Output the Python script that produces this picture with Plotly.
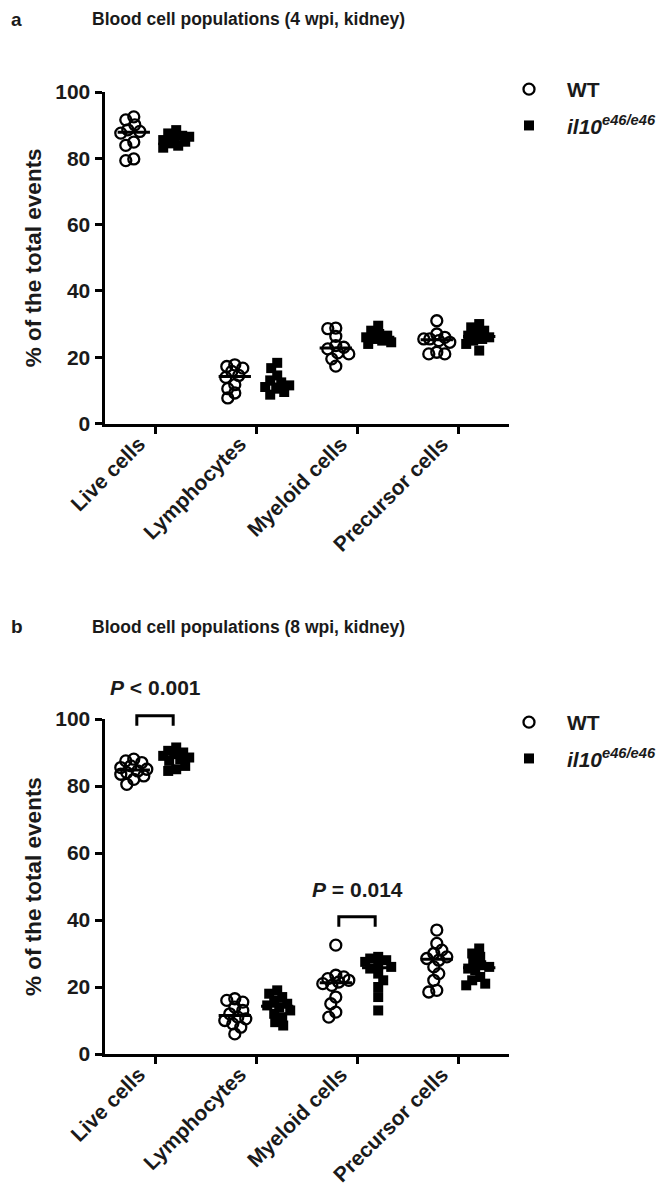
import numpy as np
import plotly.graph_objects as go

# ---------------- data ----------------
categories = ["Live cells", "Lymphocytes", "Myeloid cells", "Precursor cells"]
y_ticks = [0, 20, 40, 60, 80, 100]
groups = ["WT", "il10e46/e46"]

# Panel a: 4 wpi, kidney
a_wt_live = [92.5, 91.6, 90.1, 88.6, 88.1, 87.6, 84.9, 83.9, 79.8, 79.3]
a_ko_live = [88.5, 87.5, 86.8, 86.5, 86.0, 85.5, 85.0, 84.5, 83.8, 83.2]
a_wt_lymph = [17.7, 17.2, 16.7, 15.7, 14.5, 13.9, 11.7, 10.5, 9.2, 7.7]
a_ko_lymph = [18.3, 16.7, 14.5, 13.0, 12.4, 11.5, 11.0, 10.5, 9.5, 8.7]
a_wt_myeloid = [28.8, 28.6, 26.3, 23.5, 23.0, 22.5, 21.3, 21.0, 19.5, 17.3]
a_ko_myeloid = [29.5, 28.0, 27.0, 26.5, 26.0, 25.5, 25.0, 24.5, 24.0]
a_wt_precursor = [31.0, 27.0, 26.0, 25.5, 25.5, 25.0, 24.5, 21.5, 21.0, 21.0]
a_ko_precursor = [30.0, 29.0, 28.0, 27.0, 26.5, 26.0, 25.5, 25.0, 24.0, 22.0]

# Panel b: 8 wpi, kidney
b_wt_live = [88.0, 87.5, 87.0, 86.0, 85.5, 85.0, 84.5, 84.0, 83.5, 83.0, 82.0, 80.5]
b_ko_live = [91.5, 90.5, 90.0, 89.5, 89.0, 88.5, 88.0, 87.5, 86.0, 85.0, 84.5]
b_wt_lymph = [16.5, 16.0, 15.5, 14.0, 13.0, 12.0, 11.0, 10.5, 10.0, 9.0, 8.0, 6.0]
b_ko_lymph = [19.0, 18.0, 17.0, 16.0, 15.0, 14.5, 14.0, 13.0, 12.0, 11.0, 9.5, 8.5]
b_wt_myeloid = [32.5, 23.5, 23.0, 22.5, 22.0, 21.5, 21.0, 20.5, 17.0, 15.0, 12.5, 11.0]
b_ko_myeloid = [29.0, 28.5, 28.0, 27.5, 26.5, 26.0, 25.5, 24.0, 22.0, 20.0, 17.0, 13.0]
b_wt_precursor = [37.0, 33.0, 31.0, 30.0, 29.0, 28.5, 28.0, 26.0, 24.0, 22.0, 19.0, 18.5]
b_ko_precursor = [31.5, 30.0, 29.0, 27.5, 26.5, 26.0, 25.5, 25.0, 23.0, 22.0, 21.0, 20.5]

# significance annotations (panel b)
b_sig_categories = [0, 2]
b_sig_labels = ["<i>P</i> < 0.001", "<i>P</i> = 0.014"]
b_sig_heights = [101, 41]       # bracket top, in % units
b_sig_text_heights = [109.5, 49]

panels = {
    "a": {
        "WT": [a_wt_live, a_wt_lymph, a_wt_myeloid, a_wt_precursor],
        "KO": [a_ko_live, a_ko_lymph, a_ko_myeloid, a_ko_precursor],
    },
    "b": {
        "WT": [b_wt_live, b_wt_lymph, b_wt_myeloid, b_wt_precursor],
        "KO": [b_ko_live, b_ko_lymph, b_ko_myeloid, b_ko_precursor],
    },
}

# ---------------- layout geometry ----------------
W, H = 666, 1187
FONT = "Arial, Liberation Sans, sans-serif"
TXT = "#1a1a1a"
x_dom = [96.5 / W, 500.5 / W]
dom_a = [1 - 415.5 / H, 1 - 84 / H]
dom_b = [1 - 1046 / H, 1 - 711 / H]
GROUP_OFF = 0.21
PX_PER_X = (x_dom[1] - x_dom[0]) * W / 4.0
PX_PER_Y_a = (dom_a[1] - dom_a[0]) * H / 100.0
PX_PER_Y_b = (dom_b[1] - dom_b[0]) * H / 100.0


def swarm(values, px_per_y, min_dist=8.0, cap=13.0, step=1.0):
    """Deterministic, compact, symmetric beeswarm offsets (returned in x-axis units)."""
    order = np.argsort(values)[::-1]
    placed = []
    offs = np.zeros(len(values))
    for n, i in enumerate(order):
        sign = 1 if n % 2 == 0 else -1
        cands = [0.0]
        k = 1
        while k * step <= cap:
            cands += [sign * k * step, -sign * k * step]
            k += 1
        ypx = values[i] * px_per_y
        best, best_d = None, -1.0
        for c in cands:
            d = min([np.hypot(c - px, ypx - py) for px, py in placed] or [1e9])
            if d >= min_dist:
                best = c
                break
            if d > best_d:
                best_d, best = d, c
        placed.append((best, ypx))
        offs[i] = best / PX_PER_X
    return offs


fig = go.Figure()

for pname, xa, ya, px_y, leg in [("a", "x", "y", PX_PER_Y_a, "legend"),
                                   ("b", "x2", "y2", PX_PER_Y_b, "legend2")]:
    for gname, sgn in [("WT", -1), ("KO", 1)]:
        xs, ys = [], []
        for ci, vals in enumerate(panels[pname][gname]):
            v = np.array(vals, dtype=float)
            center = ci + sgn * GROUP_OFF
            xs.extend(list(center + swarm(v, px_y)))
            ys.extend(list(v))
        if gname == "WT":
            marker = dict(symbol="circle-open", size=11, color="black",
                          line=dict(width=2.3, color="black"))
            name = "<b>WT</b>"
        else:
            marker = dict(symbol="square", size=10, color="black")
            name = "<b><i>il10<sup>e46/e46</sup></i></b>"
        fig.add_trace(go.Scatter(x=xs, y=ys, mode="markers", marker=marker,
                                 name=name, xaxis=xa, yaxis=ya, legend=leg,
                                 legendgroup=pname + gname,
                                 cliponaxis=False, showlegend=True))
    # median lines
    for gname, sgn in [("WT", -1), ("KO", 1)]:
        for ci, vals in enumerate(panels[pname][gname]):
            m = float(np.median(vals))
            c = ci + sgn * GROUP_OFF
            fig.add_trace(go.Scatter(x=[c - 0.16, c + 0.16], y=[m, m], mode="lines",
                                     line=dict(color="black", width=3),
                                     xaxis=xa, yaxis=ya, showlegend=False,
                                     hoverinfo="skip", cliponaxis=False))

axis_common = dict(
    showline=True, linecolor="black", linewidth=3, ticks="outside",
    tickcolor="black", tickwidth=3, ticklen=7, showgrid=False, zeroline=False,
    tickfont=dict(family=FONT, size=21, color=TXT, weight="bold"),
)
xaxis_cfg = dict(axis_common, range=[-0.5, 3.5], tickmode="array",
                 tickvals=list(range(len(categories))), ticktext=categories,
                 tickangle=-45, domain=x_dom, ticklabelshift=-16, ticklabelstandoff=-10)
yaxis_cfg = dict(axis_common, range=[0, 100], tickmode="array", tickvals=y_ticks,
                 title=dict(text="% of the total events", standoff=8,
                            font=dict(family=FONT, size=22.5, color=TXT, weight="bold")))

legend_common = dict(xanchor="left", yanchor="top", itemwidth=66,
                     font=dict(family=FONT, size=21, color=TXT),
                     bgcolor="rgba(0,0,0,0)", tracegroupgap=6)

fig.update_layout(
    width=W, height=H, margin=dict(l=0, r=0, t=0, b=0, autoexpand=False),
    paper_bgcolor="white", plot_bgcolor="white",
    font=dict(family=FONT, color=TXT),
    xaxis=dict(xaxis_cfg, anchor="y", automargin=False),
    yaxis=dict(yaxis_cfg, domain=dom_a, anchor="x", automargin=False),
    xaxis2=dict(xaxis_cfg, anchor="y2", automargin=False),
    yaxis2=dict(yaxis_cfg, domain=dom_b, anchor="x2", automargin=False),
    legend=dict(legend_common, x=483 / W, y=1 - 61 / H),
    legend2=dict(legend_common, x=483 / W, y=1 - 694 / H),
)

# panel labels and titles
for lbl, ytop, title in [("a", 11, "Blood cell populations (4 wpi, kidney)"),
                         ("b", 619, "Blood cell populations (8 wpi, kidney)")]:
    fig.add_annotation(text="<b>" + lbl + "</b>", x=1 / W, y=1 - ytop / H, xref="paper",
                       yref="paper", xanchor="left", yanchor="middle", showarrow=False,
                       font=dict(family=FONT, size=19, color=TXT))
    fig.add_annotation(text="<b>" + title + "</b>", x=240 / W, y=1 - ytop / H, xref="paper",
                       yref="paper", xanchor="center", yanchor="middle", showarrow=False,
                       font=dict(family=FONT, size=17.5, color=TXT))


def ypaper_b(v):
    return dom_b[0] + v / 100.0 * (dom_b[1] - dom_b[0])


for ci, lab, hb, ht in zip(b_sig_categories, b_sig_labels, b_sig_heights, b_sig_text_heights):
    x0, x1 = ci - 0.18, ci + 0.18
    fig.add_shape(type="path", xref="x2", yref="paper",
                  path=f"M {x0} {ypaper_b(hb - 3)} L {x0} {ypaper_b(hb)} L {x1} {ypaper_b(hb)} L {x1} {ypaper_b(hb - 3)}",
                  line=dict(color="black", width=3))
    fig.add_annotation(text="<b>" + lab + "</b>", x=ci, y=ypaper_b(ht), xref="x2", yref="paper",
                       xanchor="center", yanchor="middle", showarrow=False,
                       font=dict(family=FONT, size=21, color=TXT))

fig.write_html("out.html")
